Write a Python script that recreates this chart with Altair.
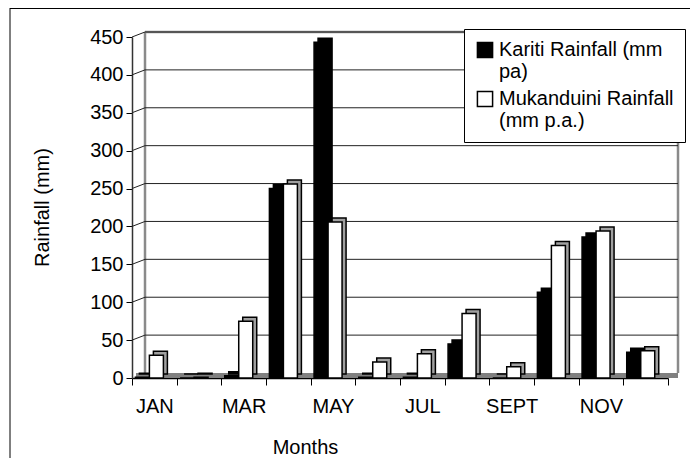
import altair as alt
import pandas as pd

months = ["JAN", "FEB", "MAR", "APR", "MAY", "JUN", "JUL", "AUG", "SEPT", "OCT", "NOV", "DEC"]
kariti = [1, 0, 3, 250, 443, 1, 1, 45, 0, 113, 186, 34]
mukanduini = [30, 1, 75, 256, 206, 21, 32, 85, 15, 175, 194, 36]
series_names = ["Kariti Rainfall (mm pa)", "Mukanduini Rainfall (mm p.a.)"]
legend_lines = [["Kariti Rainfall (mm", "pa)"], ["Mukanduini Rainfall", "(mm p.a.)"]]
y_ticks = list(range(0, 451, 50))
x_labels_shown = ["JAN", "MAR", "MAY", "JUL", "SEPT", "NOV"]

rows = []
for i, m in enumerate(months):
    rows.append({"month": m, "series": series_names[0], "value": kariti[i]})
    rows.append({"month": m, "series": series_names[1], "value": mukanduini[i]})
df = pd.DataFrame(rows)
grid_df = pd.DataFrame({"v": y_ticks[1:]})
wall_df = pd.DataFrame({"lo": [y_ticks[0]], "hi": [y_ticks[-1]]})

W, H = 536, 341
FONT = "Liberation Sans"
FS = 20
DX, DY = 13, -5      # back-wall offset
BW = 14              # bar width
DEP = 4              # bar depth

yscale = alt.Scale(domain=[0, 450], nice=False, zero=True)
xscale = alt.Scale(domain=months, paddingInner=0, paddingOuter=0)
cscale = alt.Scale(domain=series_names, range=["black", "white"])

shown_js = "[" + ",".join("'" + s + "'" for s in x_labels_shown) + "]"
legend_expr = (
    "datum.label == '" + series_names[0] + "' ? ['" + "','".join(legend_lines[0]) + "'] : ['"
    + "','".join(legend_lines[1]) + "']"
)

XAXIS = alt.Axis(
    labelExpr="indexof(" + shown_js + ", datum.value) >= 0 ? datum.value : ''",
    tickBand="extent", labelAngle=0, tickSize=7, tickColor="black",
    domainColor="black", domainWidth=1.5, labelPadding=27,
    labelBaseline="alphabetic", titleX=173, titleY=75,
    titleBaseline="alphabetic", titleAlign="center",
)
YAXIS = alt.Axis(
    values=y_ticks, grid=False, tickSize=6, tickColor="black",
    domainColor="#333333", domainWidth=1.5, labelPadding=3,
    titleX=-84, titleY=170, titleBaseline="alphabetic", titleAlign="center",
)
XT = "Months"
YT = "Rainfall (mm)"


def yenc(field):
    return alt.Y(field, scale=yscale, axis=YAXIS, title=YT)


base = alt.Chart(df)
RX = W + DX - 3

floor = alt.Chart(wall_df).mark_rect(color="#808080").encode(
    x=alt.value(4), x2=alt.value(RX), y=alt.value(H), y2=alt.value(H + DY)
)
grid = alt.Chart(grid_df).mark_rule(color="#222222", strokeWidth=1, yOffset=DY).encode(
    y=yenc("v:Q"), x=alt.value(DX), x2=alt.value(RX)
)
connectors = alt.Chart(grid_df).mark_rule(color="#222222", strokeWidth=1, y2Offset=DY).encode(
    y=yenc("v:Q"), y2="v:Q", x=alt.value(0), x2=alt.value(DX)
)
walls = alt.Chart(wall_df).mark_rule(color="#8a8a8a", strokeWidth=2.5, yOffset=DY, y2Offset=DY).encode(
    x=alt.value(DX), y=yenc("lo:Q"), y2="hi:Q"
)
rwall = alt.Chart(wall_df).mark_rule(color="#8a8a8a", strokeWidth=2.5, yOffset=DY, y2Offset=DY).encode(
    x=alt.value(RX), y=yenc("lo:Q"), y2="hi:Q"
)
topwall = alt.Chart(wall_df).mark_rule(color="#8a8a8a", strokeWidth=2.5, yOffset=DY).encode(
    x=alt.value(DX), x2=alt.value(RX), y=yenc("hi:Q")
)

band = W / len(months)
k_off = (3.4 + BW / 2) - band / 2
m_off = k_off + BW


def bars(idx, off, fill, depth):
    filt = base.transform_filter(alt.datum.series == series_names[idx])
    xo = off + (DEP if depth else 0)
    yo = -DEP if depth else 0
    mk = filt.mark_bar(width=BW, xOffset=xo, yOffset=yo, stroke="black", strokeWidth=1.5)
    xenc = alt.X("month:N", scale=xscale, sort=months, title=XT, axis=XAXIS)
    if depth:
        return mk.encode(x=xenc, y=yenc("value:Q"), fill=alt.value(fill))
    return mk.encode(
        x=xenc, y=yenc("value:Q"),
        fill=alt.Fill("series:N", scale=cscale, legend=alt.Legend(
            title=None, orient="none", legendX=332, legendY=-8, labelExpr=legend_expr,
            labelLimit=0, symbolType="square", symbolSize=230, symbolStrokeColor="black",
            symbolStrokeWidth=1.5, labelOffset=4, rowPadding=6, padding=11,
            fillColor="white", strokeColor="black",
        )),
    )


depth_k = bars(0, k_off, "black", True)
depth_m = bars(1, m_off, "#a0a0a0", True)
front_k = bars(0, k_off, "black", False)
front_m = bars(1, m_off, "white", False)

border_top = alt.Chart(wall_df).mark_rule(color="black", strokeWidth=1).encode(
    x=alt.value(-122), x2=alt.value(W + 30), y=alt.value(-28.5)
)
border_left = alt.Chart(wall_df).mark_rule(color="black", strokeWidth=1).encode(
    x=alt.value(-122), y=alt.value(-29), y2=alt.value(H + 90)
)

chart = alt.layer(
    border_top, border_left, floor, topwall, walls, rwall, grid, connectors,
    depth_k, depth_m, front_k, front_m,
).properties(
    width=W, height=H, autosize="none",
    padding={"left": 124, "top": 29, "right": 22, "bottom": 80},
    background="white",
).configure_view(stroke=None).configure_axis(
    labelFont=FONT, titleFont=FONT, labelFontSize=FS, titleFontSize=FS,
    labelColor="black", titleColor="black", titleFontWeight="normal",
).configure_legend(
    labelFont=FONT, labelFontSize=FS, labelColor="black",
)

chart.save("out.html", embed_options={"renderer": "svg", "actions": False})
